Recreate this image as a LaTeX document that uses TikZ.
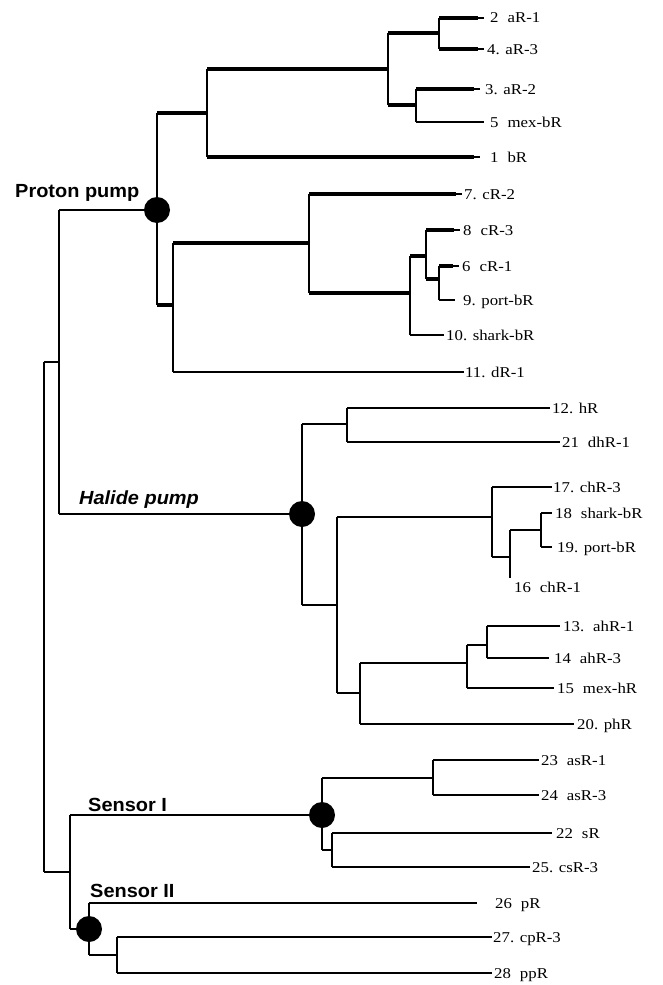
\documentclass[tikz,border=0pt]{standalone}
\usepackage{fontspec}
\newfontfamily\leaffont{Liberation Serif}[FakeStretch=1.12]
\newfontfamily\groupfont{Liberation Sans}[FakeStretch=1.05]
% wide gap after an undotted sequence number
\newcommand{\gp}{\hspace{0.6em}}
% horizontal branch from the parent's bar to a child
\newcommand{\hedge}[3][thin branch]{\draw[#1] (#2 |- #3) -- (#3);}
% thick branch ending in a thin stub next to its label
\newcommand{\tip}[2]{\draw[thick branch] (#1 |- #2) -- ([xshift=-6pt]#2);
  \draw[thin branch] ([xshift=-7pt]#2) -- (#2);}
% vertical bar of a clade
\newcommand{\vbar}[3]{\draw[bar] (#1 |- #2) -- (#1 |- #3);}
\begin{document}
\begin{tikzpicture}[x=1pt,y=-1pt,
  thin branch/.style={line width=1.5pt},
  thick branch/.style={line width=4.2pt},
  bar/.style={line width=1.7pt},
  dot/.style={circle,fill=black,inner sep=0pt,minimum size=26pt},
  leaf/.style={anchor=base west,inner sep=0pt,font=\leaffont\fontsize{15}{16}\selectfont},
  group/.style={anchor=base west,inner sep=0pt,font=\groupfont\bfseries\fontsize{19}{20}\selectfont},
]
\useasboundingbox[fill=white] (0,0) rectangle (663,985);

% ---------- internal nodes ----------
\coordinate (R) at (44,617);
\coordinate (A) at (59,362);
\coordinate (S) at (70,872);
\node[dot] (PP) at (157,210) {};
\coordinate (P1) at (207,113);
\coordinate (P11) at (388,69);
\coordinate (P111) at (439,33);
\coordinate (P112) at (416,105);
\coordinate (P2) at (173,305);
\coordinate (P21) at (309,243);
\coordinate (P212) at (410,293);
\coordinate (P2121) at (426,256);
\coordinate (P21212) at (439,279);
\node[dot] (HP) at (302,514) {};
\coordinate (H1) at (347,424);
\coordinate (H2) at (337,605);
\coordinate (H21) at (492,517);
\coordinate (H212) at (510,557);
\coordinate (H2121) at (541,530);
\coordinate (H22) at (360,693);
\coordinate (H221) at (467,663);
\coordinate (H2211) at (487,645);
\node[dot] (SI) at (322,815) {};
\coordinate (S11) at (433,778);
\coordinate (S12) at (332,850);
\node[dot] (SII) at (89,929) {};
\coordinate (S22) at (117,955);

% ---------- leaf ends and labels ----------
\coordinate (aR1) at (484,18);   \node[leaf] (aR1t) at (490,23) {2\gp aR-1};
\coordinate (aR3) at (484,49);   \node[leaf] (aR3t) at (487,54) {4. aR-3};
\coordinate (aR2) at (480,89);   \node[leaf] (aR2t) at (485,94) {3. aR-2};
\coordinate (mexbR) at (484,122);\node[leaf] (mexbRt) at (490,127) {5\gp mex-bR};
\coordinate (bR) at (480,157);   \node[leaf] (bRt) at (490,162) {1\gp bR};
\coordinate (cR2) at (462,194);  \node[leaf] (cR2t) at (464,199) {7. cR-2};
\coordinate (cR3) at (460,230);  \node[leaf] (cR3t) at (463,235) {8\gp cR-3};
\coordinate (cR1) at (459,266);  \node[leaf] (cR1t) at (462,271) {6\gp cR-1};
\coordinate (portbR) at (455,300);\node[leaf] (portbRt) at (463,305) {9. port-bR};
\coordinate (sharkbR) at (444,335);\node[leaf] (sharkbRt) at (446,340) {10. shark-bR};
\coordinate (dR1) at (464,372);  \node[leaf] (dR1t) at (465,377) {11. dR-1};
\coordinate (hR) at (550,408);   \node[leaf] (hRt) at (552,413) {12. hR};
\coordinate (dhR1) at (560,442); \node[leaf] (dhR1t) at (562,447) {21\gp dhR-1};
\coordinate (chR3) at (552,487); \node[leaf] (chR3t) at (553,492) {17. chR-3};
\coordinate (shk18) at (552,513);\node[leaf] (shk18t) at (555,518) {18\gp shark-bR};
\coordinate (prt19) at (552,547);\node[leaf] (prt19t) at (557,552) {19. port-bR};
\coordinate (chR1) at (510,578); \node[leaf] (chR1t) at (514,592) {16\gp chR-1};
\coordinate (ahR1) at (560,626); \node[leaf] (ahR1t) at (563,631) {13.\gp ahR-1};
\coordinate (ahR3) at (549,658); \node[leaf] (ahR3t) at (554,663) {14\gp ahR-3};
\coordinate (mexhR) at (554,688);\node[leaf] (mexhRt) at (557,693) {15\gp mex-hR};
\coordinate (phR) at (574,724);  \node[leaf] (phRt) at (577,729) {20. phR};
\coordinate (asR1) at (539,760); \node[leaf] (asR1t) at (541,765) {23\gp asR-1};
\coordinate (asR3) at (539,795); \node[leaf] (asR3t) at (541,800) {24\gp asR-3};
\coordinate (sR) at (552,833);   \node[leaf] (sRt) at (556,838) {22\gp sR};
\coordinate (csR3) at (530,867); \node[leaf] (csR3t) at (532,872) {25. csR-3};
\coordinate (pR) at (477,903);   \node[leaf] (pRt) at (495,908) {26\gp pR};
\coordinate (cpR3) at (492,937); \node[leaf] (cpR3t) at (493,942) {27. cpR-3};
\coordinate (ppR) at (492,973);  \node[leaf] (ppRt) at (494,978) {28\gp ppR};

% ---------- clade labels ----------
\node[group] (lpp) at (15,197) {Proton pump};
\node[group] (lhp) at (79,504) {\itshape Halide pump};
\node[group] (ls1) at (88,811) {Sensor I};
\node[group] (ls2) at (90,897) {Sensor II};

% ---------- vertical bars ----------
\vbar{R}{A}{S}
\vbar{A}{PP}{HP}
\vbar{S}{SI}{SII}
\vbar{PP}{P1}{P2}
\vbar{P1}{P11}{bR}
\vbar{P11}{P111}{P112}
\vbar{P111}{aR1}{aR3}
\vbar{P112}{aR2}{mexbR}
\vbar{P2}{P21}{dR1}
\vbar{P21}{cR2}{P212}
\vbar{P212}{P2121}{sharkbR}
\vbar{P2121}{cR3}{P21212}
\vbar{P21212}{cR1}{portbR}
\vbar{HP}{H1}{H2}
\vbar{H1}{hR}{dhR1}
\vbar{H2}{H21}{H22}
\vbar{H21}{chR3}{H212}
\vbar{H212}{H2121}{chR1}
\vbar{H2121}{shk18}{prt19}
\vbar{H22}{H221}{phR}
\vbar{H221}{H2211}{mexhR}
\vbar{H2211}{ahR1}{ahR3}
\vbar{SI}{S11}{S12}
\vbar{S11}{asR1}{asR3}
\vbar{S12}{sR}{csR3}
\vbar{SII}{pR}{S22}
\vbar{S22}{cpR3}{ppR}

% ---------- horizontal branches ----------
\hedge{R}{A}
\hedge{R}{S}
\hedge{A}{PP}
\hedge{A}{HP}
\hedge{S}{SI}
\hedge{S}{SII}
% proton pumps (thick = strongly supported lineage)
\hedge[thick branch]{PP}{P1}
\hedge[thick branch]{PP}{P2}
\hedge[thick branch]{P1}{P11}
\tip{P1}{bR}
\hedge[thick branch]{P11}{P111}
\hedge[thick branch]{P11}{P112}
\tip{P111}{aR1}
\tip{P111}{aR3}
\tip{P112}{aR2}
\hedge{P112}{mexbR}
\hedge[thick branch]{P2}{P21}
\hedge{P2}{dR1}
\tip{P21}{cR2}
\hedge[thick branch]{P21}{P212}
\hedge[thick branch]{P212}{P2121}
\hedge{P212}{sharkbR}
\tip{P2121}{cR3}
\hedge[thick branch]{P2121}{P21212}
\tip{P21212}{cR1}
\hedge{P21212}{portbR}
% halide pumps
\hedge{HP}{H1}
\hedge{HP}{H2}
\hedge{H1}{hR}
\hedge{H1}{dhR1}
\hedge{H2}{H21}
\hedge{H2}{H22}
\hedge{H21}{chR3}
\hedge{H21}{H212}
\hedge{H212}{H2121}
\hedge{H2121}{shk18}
\hedge{H2121}{prt19}
\hedge{H22}{H221}
\hedge{H22}{phR}
\hedge{H221}{H2211}
\hedge{H221}{mexhR}
\hedge{H2211}{ahR1}
\hedge{H2211}{ahR3}
% sensory rhodopsins
\hedge{SI}{S11}
\hedge{SI}{S12}
\hedge{S11}{asR1}
\hedge{S11}{asR3}
\hedge{S12}{sR}
\hedge{S12}{csR3}
\hedge{SII}{pR}
\hedge{SII}{S22}
\hedge{S22}{cpR3}
\hedge{S22}{ppR}
\end{tikzpicture}
\end{document}
